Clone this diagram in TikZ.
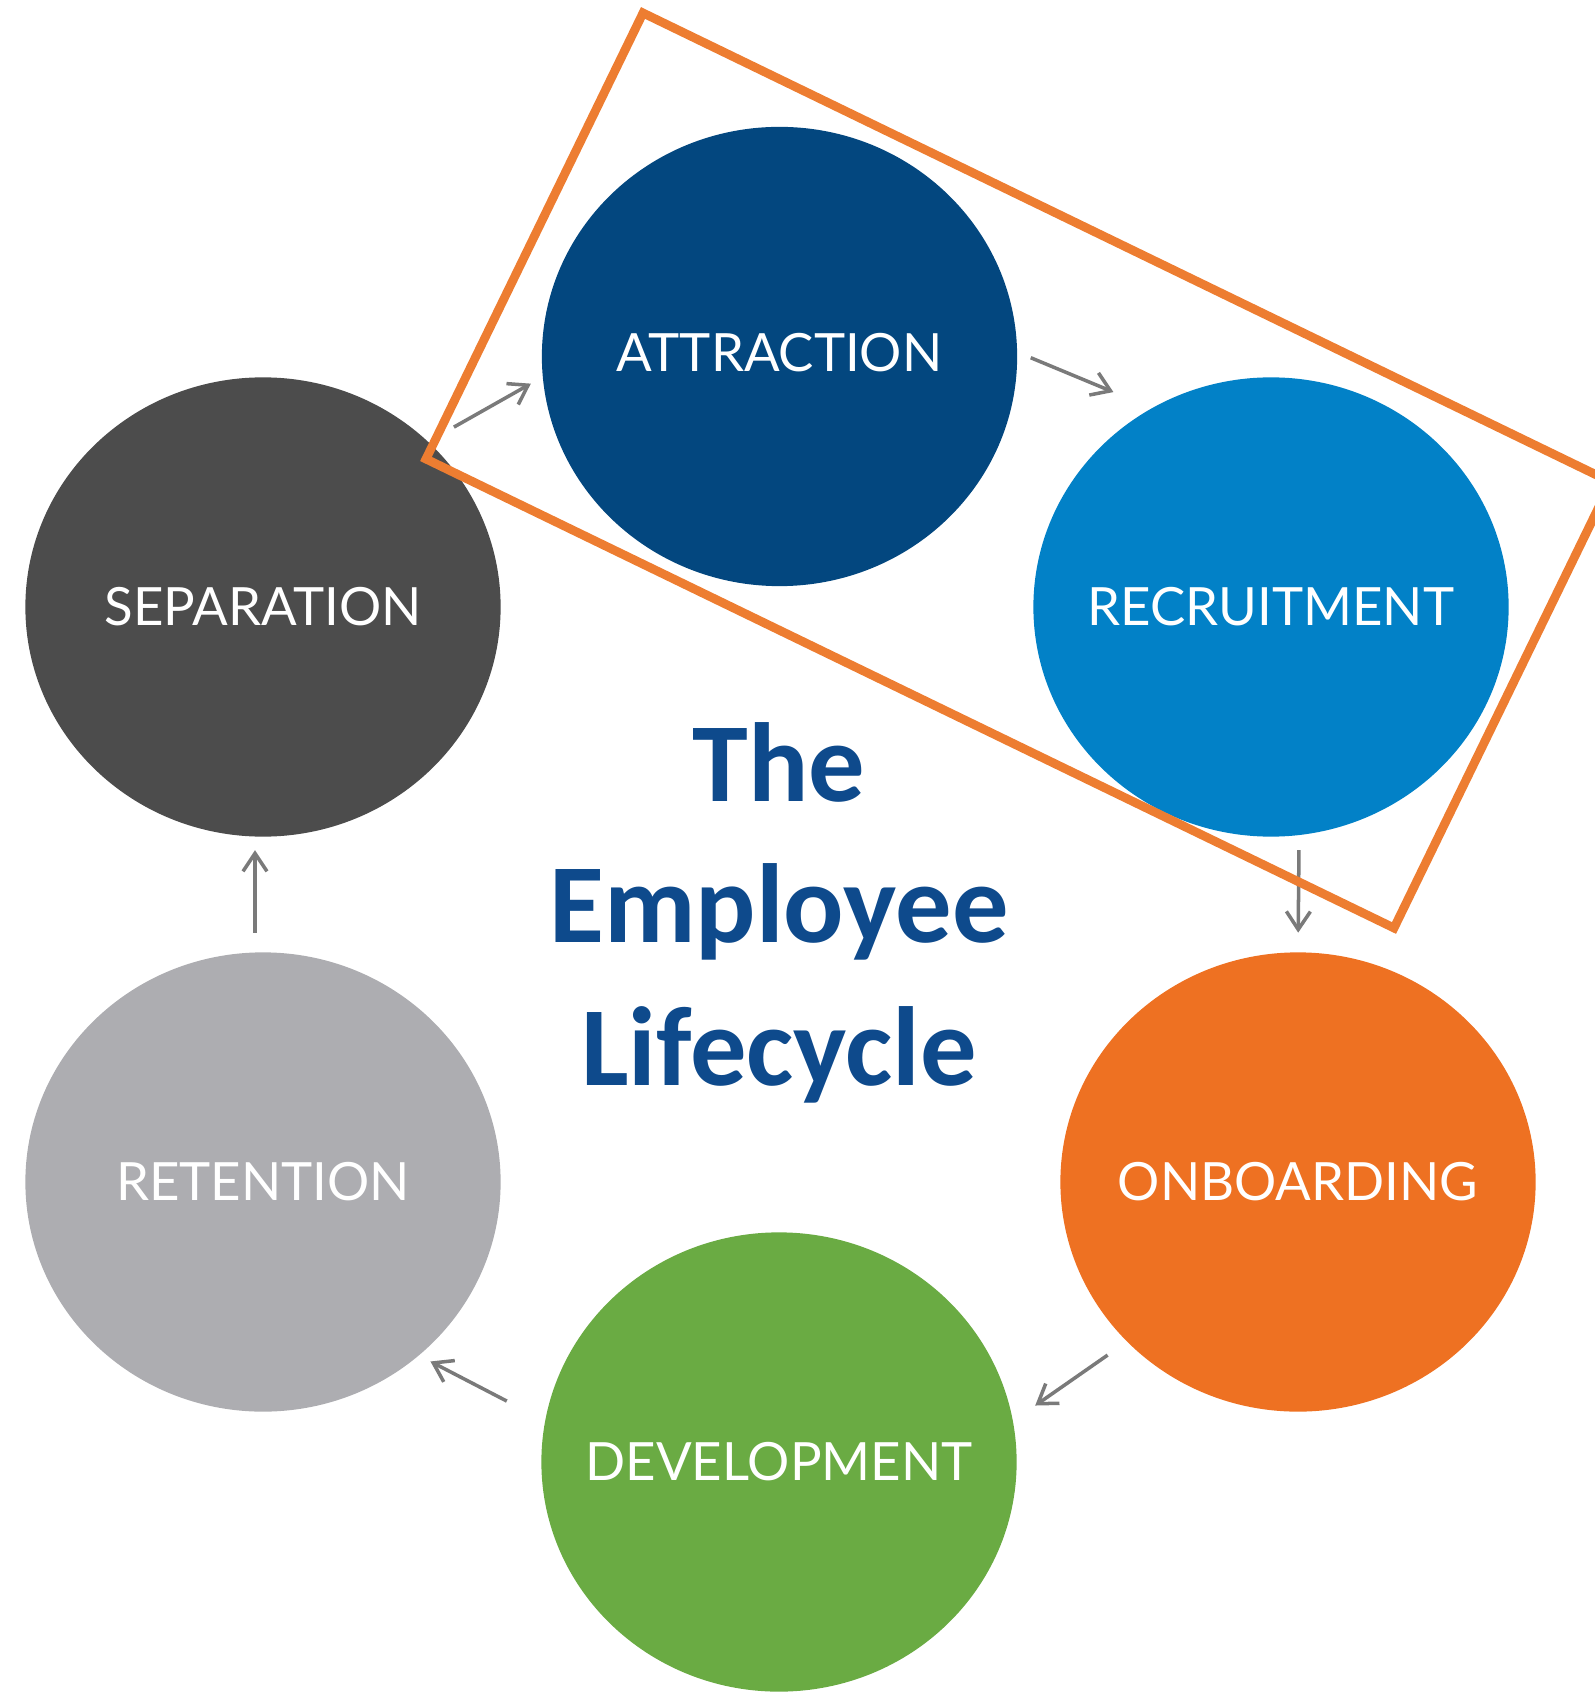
\documentclass[tikz,border=0pt]{standalone}
\usepackage{fontspec}
\setmainfont{Lato}
\newfontfamily\titlefont{Carlito}
\usetikzlibrary{shapes.geometric, arrows.meta}

\definecolor{attractblue}{HTML}{03477F}
\definecolor{recruitblue}{HTML}{0281C7}
\definecolor{onboardorange}{HTML}{EE7122}
\definecolor{developgreen}{HTML}{6AAB43}
\definecolor{retaingray}{HTML}{ADADB1}
\definecolor{separategray}{HTML}{4C4C4C}
\definecolor{titleblue}{HTML}{0E4A8C}
\definecolor{flowgray}{HTML}{7A7A7A}
\definecolor{boxorange}{HTML}{ED7D31}

% label of zero width, so the circle keeps its size
\newcommand{\stagetext}[1]{\makebox[0pt]{#1}}

\begin{document}
\begin{tikzpicture}[x=0.01cm, y=-0.01cm,
  stage/.style={ellipse, minimum width=4.75cm, minimum height=4.59cm, inner sep=0pt,
    text=white, font=\fontsize{15}{18}\selectfont},
  flow/.style={draw=flowgray, line width=1pt, -{Straight Barb[length=0.18cm, width=0.24cm]}},
  heading/.style={anchor=base, text=titleblue, font=\titlefont\bfseries\fontsize{32}{40}\selectfont}]
\useasboundingbox (0,0) rectangle (1595,1692);

% The six stages
\node[stage, fill=attractblue] (attract) at (779.5,356.5) {\stagetext{\raisebox{0.075cm}{ATTRACTION}}};
\node[stage, fill=recruitblue] (recruit) at (1271,607) {\stagetext{RECRUITMENT}};
\node[stage, fill=onboardorange] (onboard) at (1298,1182) {\stagetext{ONBOARDING}};
\node[stage, fill=developgreen] (develop) at (779,1462) {\stagetext{DEVELOPMENT}};
\node[stage, fill=retaingray] (retain) at (263,1182) {\stagetext{RETENTION}};
\node[stage, fill=separategray] (separate) at (263,607) {\stagetext{SEPARATION}};

% Title in the middle
\node[heading] (title1) at (779,801) {The};
\node[heading] (title2) at (779,942) {Employee};
\node[heading] (title3) at (779,1085) {Lifecycle};

% Arrows between the stages
\draw[flow, shorten <=0.29cm, shorten >=0.13cm] (separate.45) -- (attract.185.5);
\draw[flow, shorten <=0.14cm, shorten >=0.41cm] (attract.1) -- (recruit.121.6);
\draw[flow, shorten <=0.145cm, shorten >=0.19cm] (recruit.-83.2) -- (onboard.90);
\draw[flow, shorten <=0.23cm, shorten >=0.265cm] (onboard.223) -- (develop.10.8);
\draw[flow, shorten <=0.425cm, shorten >=0.124cm] (develop.170.4) -- (retain.-48.5);
\draw[flow, shorten <=0.19cm, shorten >=0.13cm] (retain.92.3) -- (separate.-92.3);

% Highlight box round the first two stages
\draw[boxorange, line width=2.5pt, line join=miter] (643,13) -- (1611,482) -- (1394,928) -- (426,459) -- cycle;
\end{tikzpicture}
\end{document}
